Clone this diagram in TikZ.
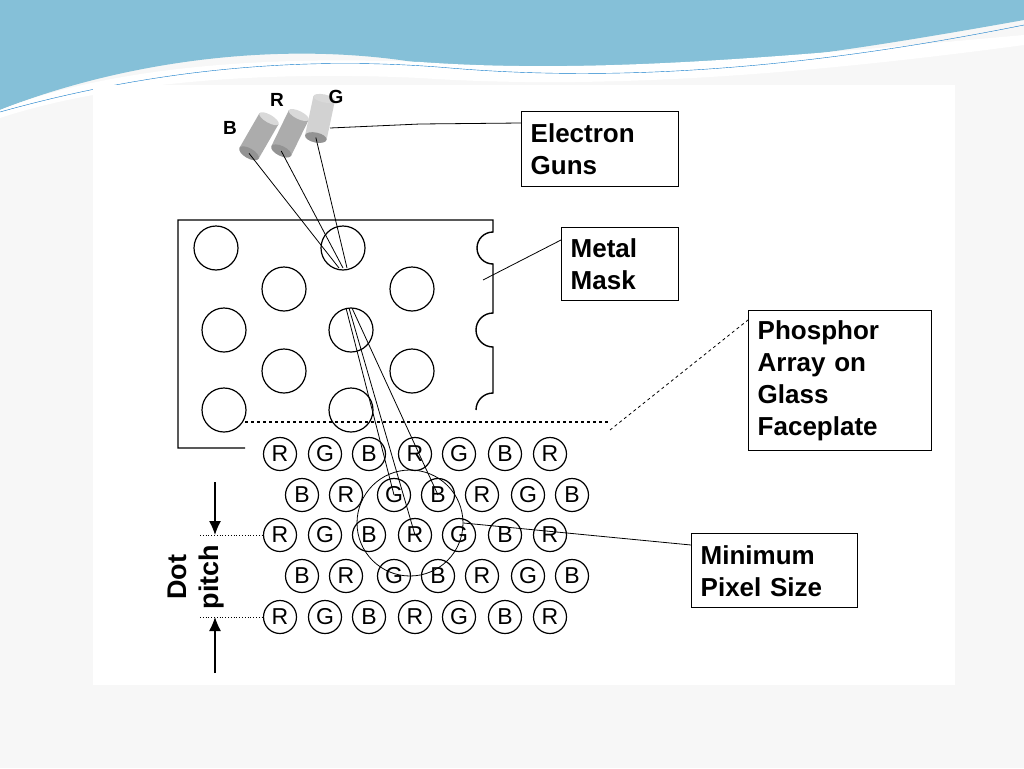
\documentclass[tikz,border=0pt]{standalone}
\usepackage{fontspec}
\setmainfont{Liberation Sans}
\usepackage{tikz}
\usetikzlibrary{arrows.meta}
\tikzset{
  dot/.style={circle,draw,line width=1.2pt,minimum size=33pt,inner sep=0pt,font=\fontsize{23}{23}\selectfont},
  label box/.style={draw,line width=1.4pt,align=left,inner sep=9pt,font=\bfseries\fontsize{26}{32}\selectfont,anchor=north west},
  gun label/.style={font=\bfseries\fontsize{19}{19}\selectfont},
  hole/.style={line width=1.2pt}
}
\colorlet{gunbody}{gray!65}
\colorlet{gunlight}{gray!35}
\begin{document}
\begin{tikzpicture}[x=1pt,y=-1pt]
\useasboundingbox (0,0) rectangle (1024,768);
% slide background
\fill[gray!6] (0,0) rectangle (1024,768);
\fill[cyan!45!teal!55] (0,0) -- (1024,0) -- (1024,20) .. controls (800,60) and (600,90) .. (400,60) .. controls (250,40) and (100,70) .. (0,110) -- cycle;
\fill[white] (0,110) .. controls (100,70) and (250,55) .. (420,62) .. controls (600,75) and (800,55) .. (1024,35) -- (1024,45) .. controls (800,75) and (600,90) .. (420,78) .. controls (250,70) and (100,85) .. (0,118) -- cycle;
\draw[cyan!60!blue,thin] (0,112) .. controls (150,70) and (300,55) .. (450,68) .. controls (650,85) and (850,60) .. (1024,25);
\fill[white] (93,85) rectangle (955,685);

% electron guns
\foreach \name/\x/\y/\ang/\shade in {B/259/136/30/gunbody, R/290/133/26/gunbody, G/320/118/12/gunlight}{
  \begin{scope}[shift={(\x,\y)},rotate=-\ang]
    \fill[\shade] (-11,-20) rectangle (11,20);
    \fill[gray!30] (0,-20) ellipse (11 and 4);
    \fill[gray!85] (0,20) ellipse (11 and 5);
    \coordinate (gun-\name) at (0,20);
  \end{scope}
}
\node[gun label] (lb-B) at (230,128) {B};
\node[gun label] (lb-R) at (277,100) {R};
\node[gun label] (lb-G) at (336,97) {G};

% metal mask
\draw[line width=1.4pt] (245,448) -- (178,448) -- (178,220) -- (493,220) -- (493,232)
  arc[start angle=270,end angle=90,radius=16] -- (493,313)
  arc[start angle=270,end angle=90,radius=17] -- (493,393)
  arc[start angle=270,end angle=180,radius=17];
\foreach \x/\y in {216/248, 343/248, 284/289, 412/289, 224/330, 351/330, 284/371, 412/371, 224/410, 351/410}
  \draw[hole] (\x,\y) circle (22);
\draw[line width=1.2pt,dashed] (245,422) -- (610,422);

% phosphor dots
\foreach \row/\y in {1/454, 3/535, 5/617}{
  \foreach \c/\x [count=\i] in {R/280, G/325, B/369, R/415, G/459, B/505, R/550}
    \node[dot] (d\row-\i) at (\x,\y) {\c};
}
\foreach \row/\y in {2/495, 4/576}{
  \foreach \c/\x [count=\i] in {B/302, R/346, G/394, B/438, R/482, G/528, B/572}
    \node[dot] (d\row-\i) at (\x,\y) {\c};
}

% beams
\coordinate (m-B) at (339,268);
\coordinate (m-R) at (343,268);
\coordinate (m-G) at (347,268);
\draw[thick] (gun-B) -- (m-B);
\draw[thick] (gun-R) -- (m-R);
\draw[thick] (gun-G) -- (m-G);
\coordinate (h-1) at (346,308);
\coordinate (h-2) at (349,308);
\coordinate (h-3) at (352,308);
\draw[thick] (h-1) -- (d2-3.center);
\draw[thick] (h-2) -- (d3-4.center);
\draw[thick] (h-3) -- (d2-4.center);

% minimum pixel
\node[circle,draw,thick,minimum size=106pt] (pix) at (410,523) {};

% dot pitch
\coordinate (p-top) at (200,535);
\coordinate (p-bot) at (200,617);
\draw[dotted,thick] (p-top) -- (d3-1.west);
\draw[dotted,thick] (p-bot) -- (d5-1.west);
\draw[line width=1.2pt,-{Latex[length=14pt,width=12pt]}] (215,482) -- (215,535);
\draw[line width=1.2pt,-{Latex[length=14pt,width=12pt]}] (215,673) -- (215,617);
\node[rotate=90,font=\bfseries\fontsize{27}{32}\selectfont,align=center] (pitch) at (196,577) {Dot\\pitch};

% labels
\node[label box,text width=139pt,minimum height=75pt] (guns) at (521,111) {Electron\\Guns};
\node[label box,text width=99pt,minimum height=73pt] (mask) at (561,227) {Metal\\Mask};
\node[label box,text width=165pt,minimum height=140pt] (phos) at (748,310) {Phosphor\\Array on\\Glass\\Faceplate};
\node[label box,text width=148pt,minimum height=74pt] (mins) at (691,533) {Minimum\\Pixel Size};
\draw[thick] (330,128) -- (420,124) -- (guns.west |- 0,123);
\draw[thick] (483,280) -- (mask.west |- 0,240);
\draw[thick,dashed] (610,430) -- (phos.west |- 0,320);
\draw[thick] (pix.east) -- (mins.west |- 0,545);
\end{tikzpicture}
\end{document}
